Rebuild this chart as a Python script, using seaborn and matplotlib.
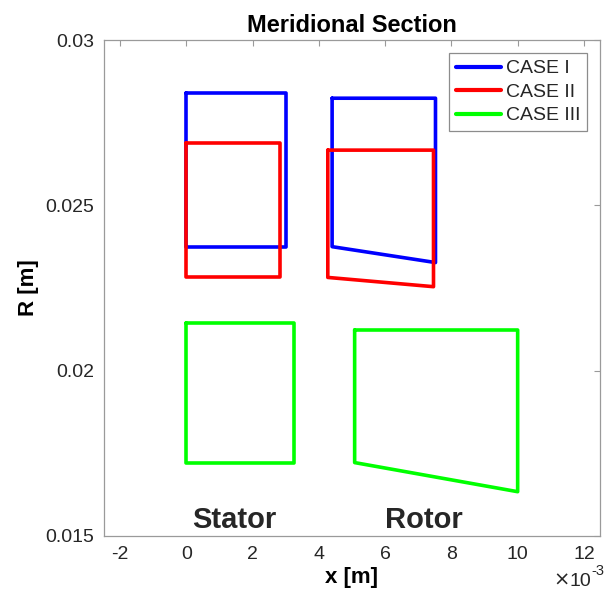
import numpy as np
import pandas as pd
import matplotlib
matplotlib.use("Agg")
import matplotlib.pyplot as plt
import seaborn as sns

# Blade-row outlines (closed polygons), x and R in metres
stator_I_x = [0.0, 3.0e-3, 3.0e-3, 0.0, 0.0]
stator_I_r = [0.02840, 0.02840, 0.02375, 0.02375, 0.02840]
rotor_I_x = [4.40e-3, 7.52e-3, 7.52e-3, 4.40e-3, 4.40e-3]
rotor_I_r = [0.02824, 0.02824, 0.02327, 0.02375, 0.02824]

stator_II_x = [0.0, 2.84e-3, 2.84e-3, 0.0, 0.0]
stator_II_r = [0.02688, 0.02688, 0.02282, 0.02282, 0.02688]
rotor_II_x = [4.27e-3, 7.46e-3, 7.46e-3, 4.27e-3, 4.27e-3]
rotor_II_r = [0.02667, 0.02667, 0.02254, 0.02282, 0.02667]

stator_III_x = [0.0, 3.25e-3, 3.25e-3, 0.0, 0.0]
stator_III_r = [0.02143, 0.02143, 0.01722, 0.01722, 0.02143]
rotor_III_x = [5.08e-3, 10.0e-3, 10.0e-3, 5.08e-3, 5.08e-3]
rotor_III_r = [0.02123, 0.02123, 0.01634, 0.01722, 0.02123]

cases = ["CASE I", "CASE II", "CASE III"]
case_colors = ["#0000ff", "#ff0000", "#00ff00"]
y_ticks = [0.015, 0.02, 0.025, 0.03]
y_tick_labels = ["0.015", "0.02", "0.025", "0.03"]
x_ticks = [-2e-3, 0, 2e-3, 4e-3, 6e-3, 8e-3, 10e-3, 12e-3]
x_tick_labels = ["-2", "0", "2", "4", "6", "8", "10", "12"]
x_scale_times = "\u00d7"
x_scale_base = "10"
x_scale_exp = "-3"

outlines = [
    ("CASE I", "stator", stator_I_x, stator_I_r),
    ("CASE I", "rotor", rotor_I_x, rotor_I_r),
    ("CASE II", "stator", stator_II_x, stator_II_r),
    ("CASE II", "rotor", rotor_II_x, rotor_II_r),
    ("CASE III", "stator", stator_III_x, stator_III_r),
    ("CASE III", "rotor", rotor_III_x, rotor_III_r),
]
rows = []
for case, part, xs, rs in outlines:
    for i, (x, r) in enumerate(zip(xs, rs)):
        rows.append({"case": case, "part": f"{case}-{part}", "order": i, "x": x, "R": r})
df = pd.DataFrame(rows)

sns.set_theme(style="white")
plt.rcParams["font.family"] = ["Liberation Sans", "DejaVu Sans"]
plt.rcParams["axes.unicode_minus"] = False

fig = plt.figure(figsize=(6.06, 5.92), dpi=100)
ax = fig.add_axes([0.1708, 0.0946, 0.8201, 0.8378])

sns.lineplot(
    data=df, x="x", y="R", hue="case", units="part", estimator=None, sort=False,
    palette=dict(zip(cases, case_colors)), hue_order=cases, linewidth=2.6,
    ax=ax, legend=True,
)
for ln in ax.lines:
    ln.set_solid_joinstyle("round")
    ln.set_solid_capstyle("round")

ax.set_xlim(-2.5e-3, 12.5e-3)
ax.set_ylim(0.015, 0.03)
ax.set_xticks(x_ticks, labels=x_tick_labels)
ax.set_yticks(y_ticks, labels=y_tick_labels)

tick_col = "#262626"
spine_col = "#9a9a9a"
for s in ax.spines.values():
    s.set_color(spine_col)
    s.set_linewidth(0.9)
    s.set_visible(True)
ax.tick_params(direction="in", top=True, right=True, length=4, width=0.8,
               color=spine_col, labelsize=14, labelcolor=tick_col, pad=7)

# x-axis scale factor below the right end of the axis
ax.annotate(x_scale_base, xy=(1, 0), xycoords="axes fraction",
            xytext=(-9, -50), textcoords="offset pixels",
            ha="right", va="baseline", fontsize=14, color=tick_col)
ax.annotate(x_scale_times, xy=(1, 0), xycoords="axes fraction",
            xytext=(-31, -50), textcoords="offset pixels",
            ha="right", va="baseline", fontsize=14, color=tick_col,
            family=["DejaVu Sans"])
ax.annotate(x_scale_exp, xy=(1, 0), xycoords="axes fraction",
            xytext=(-9, -39), textcoords="offset pixels",
            ha="left", va="baseline", fontsize=10.5, color=tick_col)

ax.set_title("Meridional Section", fontsize=17, fontweight="bold", pad=6, color="black")
ax.set_xlabel("x [m]", fontsize=16, fontweight="bold", labelpad=3, color="black")
ax.set_ylabel("R [m]", fontsize=16, fontweight="bold", labelpad=4, color="black")

ax.text(1.44e-3, 0.01525, "Stator", fontsize=21, fontweight="bold", ha="center", va="baseline")
ax.text(7.16e-3, 0.01525, "Rotor", fontsize=21, fontweight="bold", ha="center", va="baseline")

leg = ax.legend(
    loc="upper right", bbox_to_anchor=(0.9728, 0.9738), borderaxespad=0,
    fontsize=14, frameon=True, fancybox=False, framealpha=1,
    edgecolor="#8c8c8c", handlelength=2.3, handletextpad=0.25,
    labelspacing=0.3, borderpad=0.35, title=None,
)
leg.get_frame().set_linewidth(0.9)
for h in leg.get_lines():
    h.set_linewidth(3.0)

fig.savefig("out.png", dpi=100, facecolor="white")
